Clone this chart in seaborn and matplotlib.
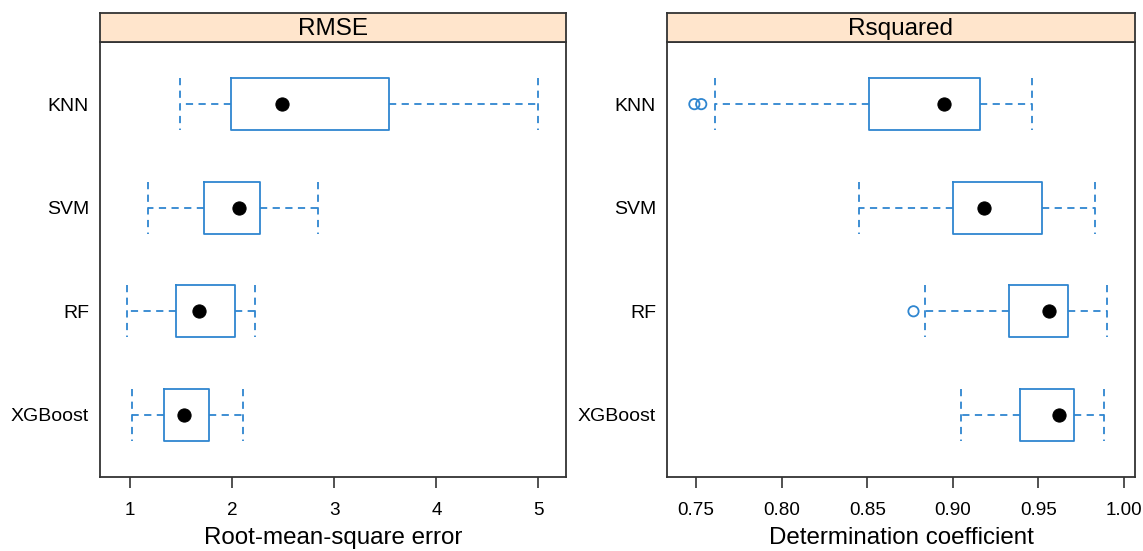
import numpy as np
import pandas as pd
import seaborn as sns
import matplotlib.pyplot as plt

models = ["KNN", "SVM", "RF", "XGBoost"]

# five-number summaries: lower whisker, Q1, median, Q3, upper whisker
rmse_low = [1.49, 1.18, 0.97, 1.02]
rmse_q1 = [1.99, 1.72, 1.45, 1.33]
rmse_med = [2.49, 2.07, 1.68, 1.53]
rmse_q3 = [3.54, 2.27, 2.03, 1.77]
rmse_high = [5.00, 2.84, 2.22, 2.11]

r2_low = [0.761, 0.845, 0.884, 0.905]
r2_q1 = [0.851, 0.900, 0.933, 0.939]
r2_med = [0.895, 0.918, 0.956, 0.962]
r2_q3 = [0.916, 0.952, 0.967, 0.971]
r2_high = [0.946, 0.983, 0.990, 0.988]

# outliers
r2_out_model = ["KNN", "KNN", "RF"]
r2_out_value = [0.749, 0.753, 0.877]

rmse_ticks = [1, 2, 3, 4, 5]
r2_ticks = [0.75, 0.80, 0.85, 0.90, 0.95, 1.00]
r2_ticklabels = ["0.75", "0.80", "0.85", "0.90", "0.95", "1.00"]

sns.set_style("white")
plt.rcParams["font.family"] = ["Liberation Sans", "DejaVu Sans"]
plt.rcParams["text.color"] = "black"
plt.rcParams["axes.labelcolor"] = "black"
plt.rcParams["xtick.color"] = "black"
plt.rcParams["ytick.color"] = "black"

blue = "#2f86d0"
strip_col = "#ffe5cc"
frame_col = "#333333"


def summary_frame(low, q1, med, q3, high):
    rows = []
    for i, m in enumerate(models):
        for v in (low[i], q1[i], med[i], q3[i], high[i]):
            rows.append({"Model": m, "Value": v})
    return pd.DataFrame(rows)


def draw_panel(ax, df, med, title, xlabel, xlim, ticks, ticklabels, out_df=None):
    sns.boxplot(
        data=df, x="Value", y="Model", order=models, ax=ax,
        whis=(0, 100), width=0.5, fill=False, color=blue, linewidth=1.3,
        showfliers=False,
        medianprops={"visible": False},
        whiskerprops={"linestyle": (0, (4, 3)), "color": blue},
        capprops={"linestyle": (0, (4, 3)), "color": blue},
        capwidths=0.5,
    )
    med_df = pd.DataFrame({"Model": models, "Value": med})
    sns.scatterplot(data=med_df, x="Value", y="Model", ax=ax, color="black",
                    s=90, edgecolor="black", zorder=5)
    if out_df is not None:
        sns.scatterplot(data=out_df, x="Value", y="Model", ax=ax, marker="o",
                        facecolor="none", edgecolor=blue, linewidth=1.3, s=55, zorder=5)
    ax.set_xlim(*xlim)
    ax.set_ylim(3.6, -0.6)
    ax.set_xticks(ticks)
    ax.set_xticklabels(ticklabels)
    ax.tick_params(axis="x", bottom=True, length=8, width=1.2, color=frame_col,
                   labelsize=13.6, pad=10)
    ax.tick_params(axis="y", left=False, length=0, labelsize=14, pad=8)
    ax.set_xlabel(xlabel, fontsize=17.4, labelpad=6)
    ax.set_ylabel("")
    for sp in ax.spines.values():
        sp.set_color(frame_col)
        sp.set_linewidth(1.3)

    # strip on top of the panel
    pos = ax.get_position()
    sax = ax.figure.add_axes([pos.x0, pos.y1, pos.width, 29 / 551])
    sax.set_facecolor(strip_col)
    sax.set_xticks([])
    sax.set_yticks([])
    for sp in sax.spines.values():
        sp.set_color(frame_col)
        sp.set_linewidth(1.3)
    sax.text(0.5, 0.45, title, ha="center", va="center", fontsize=17.5,
             transform=sax.transAxes)


fig = plt.figure(figsize=(11.43, 5.51), dpi=100)
ax1 = fig.add_axes([100 / 1143, 1 - 477 / 551, 466 / 1143, 435 / 551])
ax2 = fig.add_axes([667 / 1143, 1 - 477 / 551, 468 / 1143, 435 / 551])

rmse_df = summary_frame(rmse_low, rmse_q1, rmse_med, rmse_q3, rmse_high)
r2_df = summary_frame(r2_low, r2_q1, r2_med, r2_q3, r2_high)
out_df = pd.DataFrame({"Model": r2_out_model, "Value": r2_out_value})

draw_panel(ax1, rmse_df, rmse_med, "RMSE", "Root-mean-square error",
           (0.706, 5.27), rmse_ticks, [str(t) for t in rmse_ticks])
draw_panel(ax2, r2_df, r2_med, "Rsquared", "Determination coefficient",
           (0.733, 1.0064), r2_ticks, r2_ticklabels, out_df)

fig.savefig("out.png", dpi=100)
